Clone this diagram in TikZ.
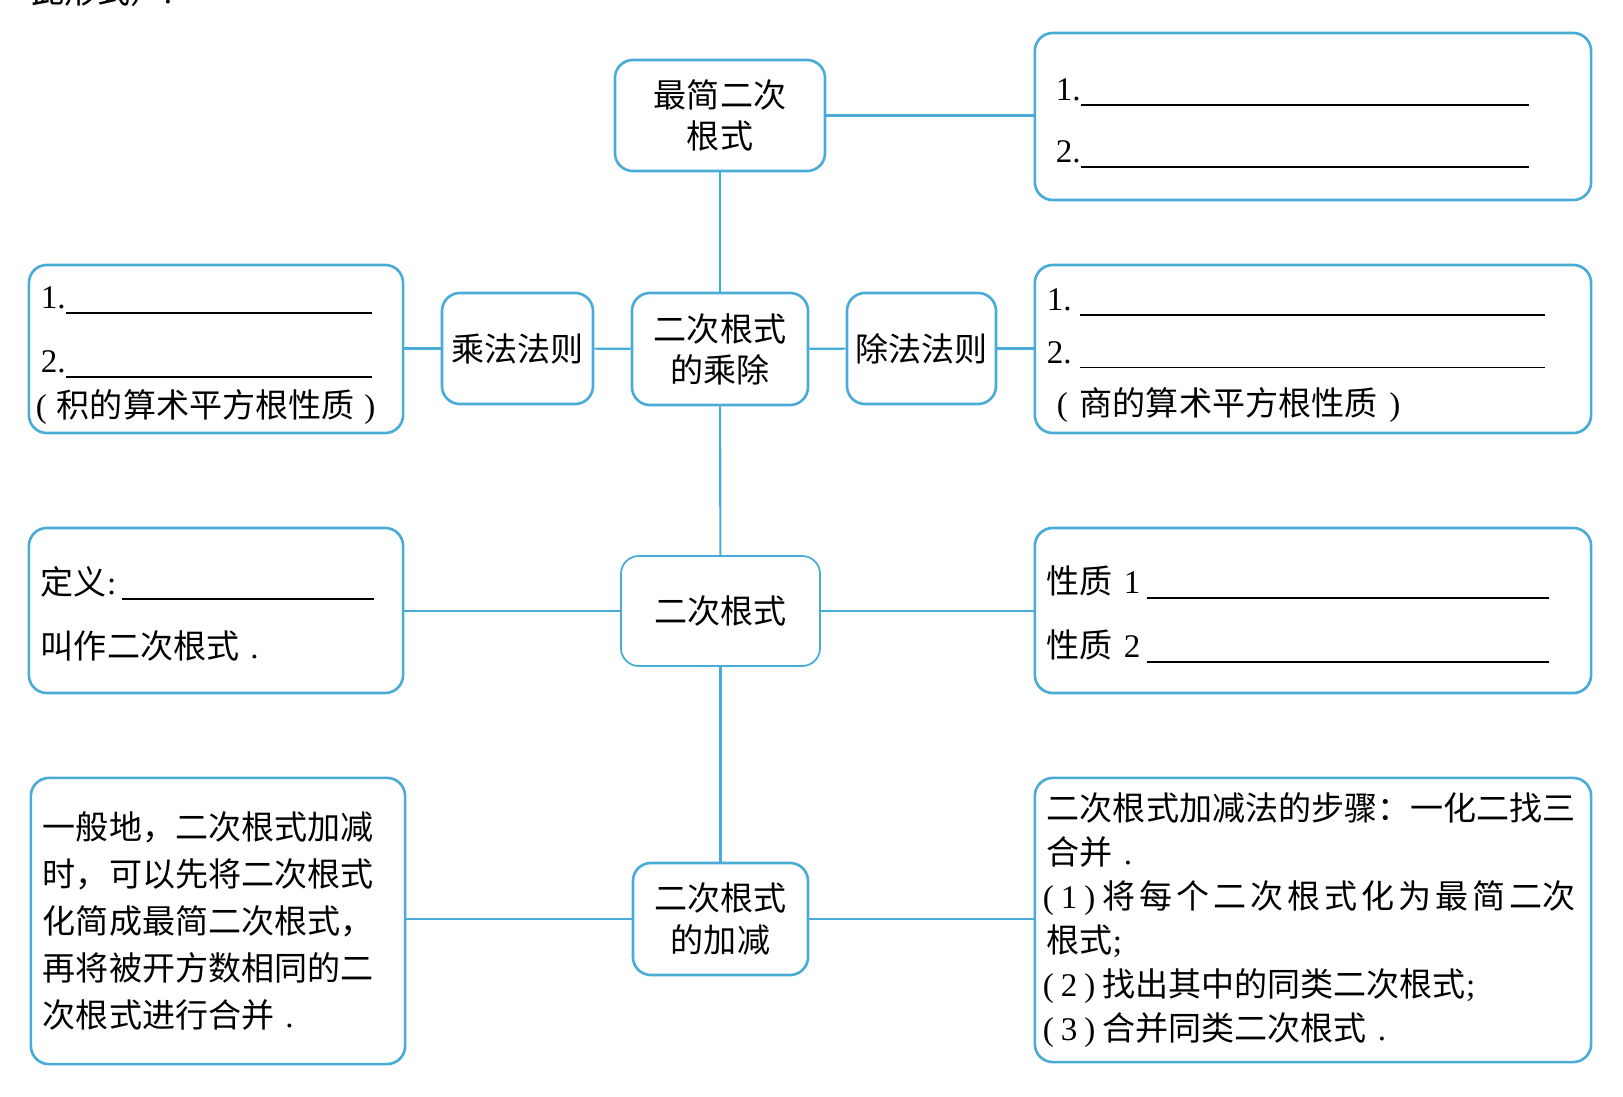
\documentclass[tikz,border=0pt]{standalone}
\usepackage{fontspec}
\setmainfont{Noto Sans CJK SC}
\newfontfamily\latin{Liberation Serif}
\definecolor{mapblue}{RGB}{72,172,214}
\newcommand{\nr}[1]{{\latin #1}}
\newcommand{\blank}[1]{\rule[-1.5pt]{#1}{0.5pt}}
\newcommand{\stepno}[1]{\nr{(\hspace{0.07cm}#1\hspace{0.07cm})}\hspace{0.07cm}}

\tikzset{
  every node/.style={font=\fontsize{9.4}{13}\selectfont},
  box/.style={draw=mapblue, line width=0.75pt, rounded corners=1.8mm, inner sep=0pt, align=center},
  notebox/.style={box, align=left, inner xsep=0.12cm},
  blankbox/.style={notebox, execute at begin node={\rule{0pt}{10pt}}},
  link/.style={draw=mapblue, line width=0.6pt},
}

\begin{document}
\begin{tikzpicture}[x=0.01cm, y=-0.01cm]
		\clip (0,0) rectangle (1623,1097);
		%%%%%%%%%%%%% cut-off line of the page above
		\node[anchor=base west, inner sep=0pt] (cuttext) at (31,4) {此形式）\nr{.}};
		%%%%%%%%%%%%% middle column
		\node[box, minimum width=2.10cm, minimum height=1.11cm, font=\fontsize{9.4}{11.7}\selectfont] (simplest) at (720,115.5) {最简二次\\根式};
		\node[box, minimum width=1.76cm, minimum height=1.12cm, font=\fontsize{9.4}{11.7}\selectfont] (muldiv) at (720,349) {二次根式\\的乘除};
		\node[box, minimum width=1.51cm, minimum height=1.11cm] (mul) at (517.5,348.5) {乘法法则};
		\node[box, minimum width=1.49cm, minimum height=1.11cm] (div) at (921.5,348.5) {除法法则};
		\node[box, minimum width=1.99cm, minimum height=1.10cm, line width=0.5pt] (root) at (720.5,611) {二次根式};
		\node[box, minimum width=1.75cm, minimum height=1.12cm, font=\fontsize{9.4}{11.7}\selectfont] (addsub) at (720.5,919) {二次根式\\的加减};
		%%%%%%%%%%%%% right column
		\node[blankbox, minimum width=5.56cm, minimum height=1.67cm, text width=5.32cm] (trbox) at (1313,116.5)
			{\hspace*{0.09cm}\nr{1.}\blank{4.48cm}\\[4.6pt]\hspace*{0.09cm}\nr{2.}\blank{4.48cm}};
		\node[blankbox, minimum width=5.56cm, minimum height=1.68cm, text width=5.32cm] (r2box) at (1313,349)
			{\nr{1.}\hspace{0.08cm}\blank{4.65cm}\\[2pt]\nr{2.}\hspace{0.08cm}\blank{4.65cm}\\[2pt]\hspace*{0.1cm}\nr{(}\hspace{0.12cm}商的算术平方根性质\hspace{0.12cm}\nr{)}};
		\node[blankbox, minimum width=5.56cm, minimum height=1.65cm, text width=5.32cm] (r3box) at (1313,610.5)
			{\makebox[1.0cm][l]{性质\nr{ 1}}\blank{4.02cm}\\[5.2pt]\makebox[1.0cm][l]{性质\nr{ 2}}\blank{4.02cm}};
		\node[notebox, minimum width=5.56cm, minimum height=2.84cm, text width=5.32cm, font=\fontsize{9.4}{12.5}\selectfont] (r4box) at (1313,920)
			{二次根式加减法的步骤：一化二找三\\合并\nr{~.}\\\hspace*{-0.04cm}\stepno{1}{\addfontfeature{LetterSpace=12}将每个二次根式化为最简二}次\\根式\nr{;}\\\hspace*{-0.04cm}\stepno{2}找出其中的同类二次根式\nr{;}\\\hspace*{-0.04cm}\stepno{3}合并同类二次根式\nr{~.}};
		%%%%%%%%%%%%% left column
		\node[blankbox, minimum width=3.74cm, minimum height=1.68cm, text width=3.50cm] (l1box) at (216,349)
			{\nr{1.}\blank{3.06cm}\\[5.2pt]\nr{2.}\blank{3.06cm}\\[-0.4pt]\hspace*{-0.05cm}\nr{(}\hspace{0.1cm}积的算术平方根性质\hspace{0.1cm}\nr{)}};
		\node[blankbox, minimum width=3.74cm, minimum height=1.65cm, text width=3.50cm] (l3box) at (216,610.5)
			{定义\nr{:\,}\blank{2.52cm}\\[5.2pt]叫作二次根式\nr{~.}};
		\node[notebox, minimum width=3.74cm, minimum height=2.86cm, text width=3.50cm, font=\fontsize{9.4}{13.4}\selectfont] (l4box) at (218,921)
			{一般地，二次根式加减\\时，可以先将二次根式\\化简成最简二次根式，\\再将被开方数相同的二\\次根式进行合并\nr{~.}};
		%%%%%%%%%%%%% connectors
		\draw[link] (simplest.east) -- (simplest.east -| trbox.west);
		\draw[link] (simplest) -- (muldiv);
		\draw[link] (mul.west) -- (mul.west -| l1box.east);
		\draw[link] (mul) -- (muldiv); \draw[link] (muldiv) -- (div);
		\draw[link] (div.east) -- (div.east -| r2box.west);
		\draw[link] (muldiv) -- (root);
		\draw[link] (root.west) -- (root.west -| l3box.east);
		\draw[link] (root.east) -- (root.east -| r3box.west);
		\draw[link] (root) -- (addsub);
		\draw[link] (addsub.west) -- (addsub.west -| l4box.east);
		\draw[link] (addsub.east) -- (addsub.east -| r4box.west);
\end{tikzpicture}
\end{document}
